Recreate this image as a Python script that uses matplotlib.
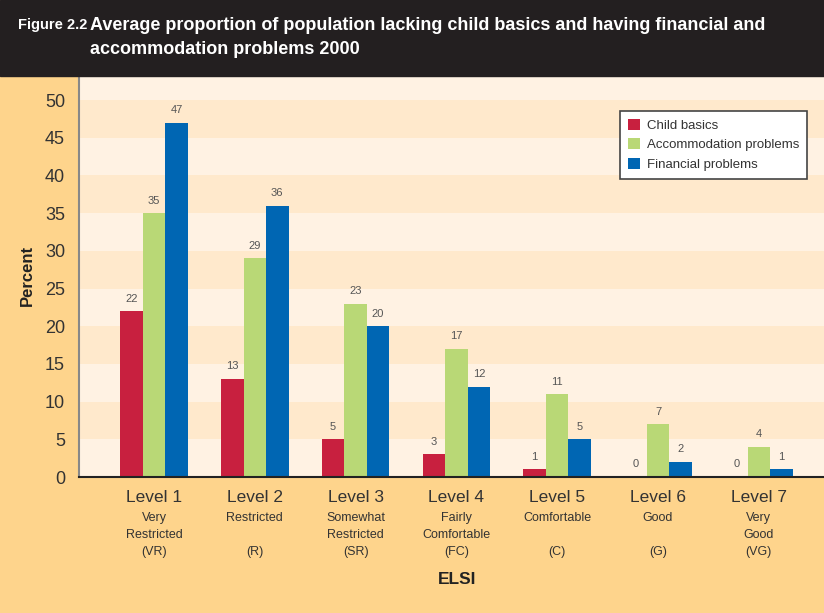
import matplotlib.pyplot as plt
import numpy as np
from matplotlib.transforms import blended_transform_factory

plt.rcParams['font.family'] = ['Liberation Sans', 'DejaVu Sans']

# данные
levels = ['Level 1', 'Level 2', 'Level 3', 'Level 4', 'Level 5', 'Level 6', 'Level 7']
level_desc = [['Very', 'Restricted', '(VR)'],
              ['Restricted', '', '(R)'],
              ['Somewhat', 'Restricted', '(SR)'],
              ['Fairly', 'Comfortable', '(FC)'],
              ['Comfortable', '', '(C)'],
              ['Good', '', '(G)'],
              ['Very', 'Good', '(VG)']]
child_basics = [22, 13, 5, 3, 1, 0, 0]
accommodation = [35, 29, 23, 17, 11, 7, 4]
financial = [47, 36, 20, 12, 5, 2, 1]
series_names = ['Child basics', 'Accommodation problems', 'Financial problems']
colors = ['#c8203f', '#b9d876', '#0066b3']

fig = plt.figure(figsize=(8.24, 6.13), dpi=100)
fig.patch.set_facecolor('#fed48c')

# тёмная шапка
fig.patches.append(plt.Rectangle((0, 1 - 76 / 613), 1, 76 / 613, transform=fig.transFigure,
                                 color='#231f20', zorder=0))
fig.text(18 / 824, 1 - 25 / 613, 'Figure 2.2', color='white', fontsize=10.5,
         fontweight='bold', va='center', ha='left')
fig.text(90 / 824, 1 - 25 / 613, 'Average proportion of population lacking child basics and having financial and',
         color='white', fontsize=13, fontweight='bold', va='center', ha='left')
fig.text(90 / 824, 1 - 50 / 613, 'accommodation problems 2000',
         color='white', fontsize=13, fontweight='bold', va='center', ha='left')

ax = fig.add_axes([79 / 824, 1 - 477 / 613, 1 - 79 / 824, (477 - 76) / 613])
ax.set_facecolor('#fff2e3')

# полосы фона
for k in range(11):
    if k % 2 == 1:
        ax.axhspan(5 * k, 5 * k + 5, color='#ffe9cc', zorder=0, lw=0)

x = np.arange(len(levels))
w = 0.223
data = [child_basics, accommodation, financial]
for i, (vals, name, c) in enumerate(zip(data, series_names, colors)):
    pos = x + (i - 1) * w
    ax.bar(pos, vals, width=w, color=c, label=name, zorder=2)
    for px, v in zip(pos, vals):
        ax.text(px, v + 1.0, str(v), ha='center', va='bottom', fontsize=8, color='#555555')

ax.set_xlim(-0.744, 6.647)
ax.set_ylim(0, 53.2)
ax.set_yticks(range(0, 51, 5))
ax.tick_params(axis='y', length=0, labelsize=13, labelcolor='#333333', pad=10)
ax.set_xticks([])
for s in ['top', 'right']:
    ax.spines[s].set_visible(False)
ax.spines['left'].set_color('#888888')
ax.spines['left'].set_linewidth(1.5)
ax.spines['bottom'].set_color('#222222')
ax.spines['bottom'].set_linewidth(1.5)

# подписи категорий
tr = blended_transform_factory(ax.transData, fig.transFigure)
for xi, lv, desc in zip(x, levels, level_desc):
    ax.text(xi, 1 - 498 / 613, lv, transform=tr, ha='center', va='center', fontsize=12.5, color='#333333')
    for j, line in enumerate(desc):
        ax.text(xi, 1 - (518 + 17 * j) / 613, line, transform=tr, ha='center', va='center',
                fontsize=9, color='#333333')

fig.text(457 / 824, 1 - 580 / 613, 'ELSI', fontsize=12.5, fontweight='bold', ha='center', va='center',
         color='#222222')
fig.text(27 / 824, 1 - 275 / 613, 'Percent', fontsize=12, fontweight='bold', rotation=90,
         ha='center', va='center', color='#222222')

leg = ax.legend(loc='upper right', bbox_to_anchor=(0.977, 0.913), borderaxespad=0, fontsize=9.5,
                handlelength=0.9, handleheight=0.9, fancybox=False, framealpha=1,
                edgecolor='#444444', shadow=False, labelcolor='#333333', borderpad=0.6,
                handletextpad=0.5)
leg.get_frame().set_linewidth(1.2)

fig.savefig('out.png', dpi=100, facecolor=fig.get_facecolor())
